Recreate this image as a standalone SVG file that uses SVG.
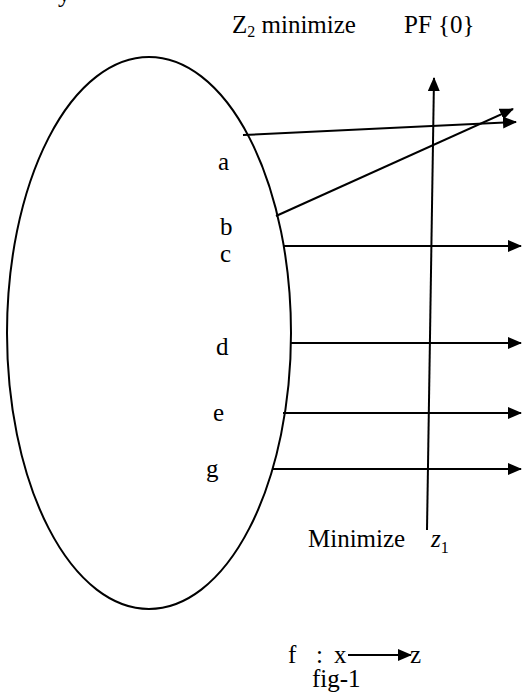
<svg xmlns="http://www.w3.org/2000/svg" width="522" height="694" viewBox="0 0 522 694">
<style>
text{font-family:"Liberation Serif","Times New Roman",serif;font-size:25px;fill:#000}
.sub{font-size:16px}
.ln{stroke:#000;stroke-width:2;fill:none}
</style>
<defs>
<marker id="ah" viewBox="0 0 14 12" refX="13" refY="6" markerWidth="14" markerHeight="12" markerUnits="userSpaceOnUse" orient="auto">
<path d="M0,0 L14,6 L0,12 z" fill="#000"/>
</marker>
</defs>
<rect width="522" height="694" fill="#fff"/>
<text x="58" y="2">y</text>
<g id="title">
<text x="232" y="33">Z<tspan class="sub" dy="4">2</tspan><tspan dy="-4"> minimize</tspan></text>
<text x="404" y="33">PF {0}</text>
</g>
<g id="setX">
<ellipse cx="149" cy="333" rx="142" ry="276" class="ln"/>
<text x="218" y="170">a</text>
<text x="220" y="235">b</text>
<text x="220" y="262">c</text>
<text x="216" y="355">d</text>
<text x="213" y="421">e</text>
<text x="206" y="477">g</text>
</g>
<g id="axis">
<text x="308" y="547">Minimize</text>
<text x="431" y="547"><tspan font-style="italic">z</tspan><tspan class="sub" dy="6">1</tspan></text>
</g>
<g id="caption">
<text x="288" y="663">f</text>
<text x="316" y="663">:</text>
<text x="334" y="663">x</text>
<text x="410" y="663">z</text>
<text x="312" y="687">fig-1</text>
</g>
<g id="connectors" class="ln">
<line x1="427" y1="530" x2="434" y2="78" marker-end="url(#ah)"/>
<line x1="243" y1="135" x2="516" y2="122" marker-end="url(#ah)"/>
<line x1="276" y1="216" x2="513" y2="109" marker-end="url(#ah)"/>
<line x1="283" y1="246" x2="521" y2="246" marker-end="url(#ah)"/>
<line x1="290" y1="343" x2="521" y2="343" marker-end="url(#ah)"/>
<line x1="283" y1="413" x2="521" y2="413" marker-end="url(#ah)"/>
<line x1="273" y1="469" x2="521" y2="469" marker-end="url(#ah)"/>
<line x1="348" y1="655" x2="411" y2="655" marker-end="url(#ah)"/>
</g>
</svg>
